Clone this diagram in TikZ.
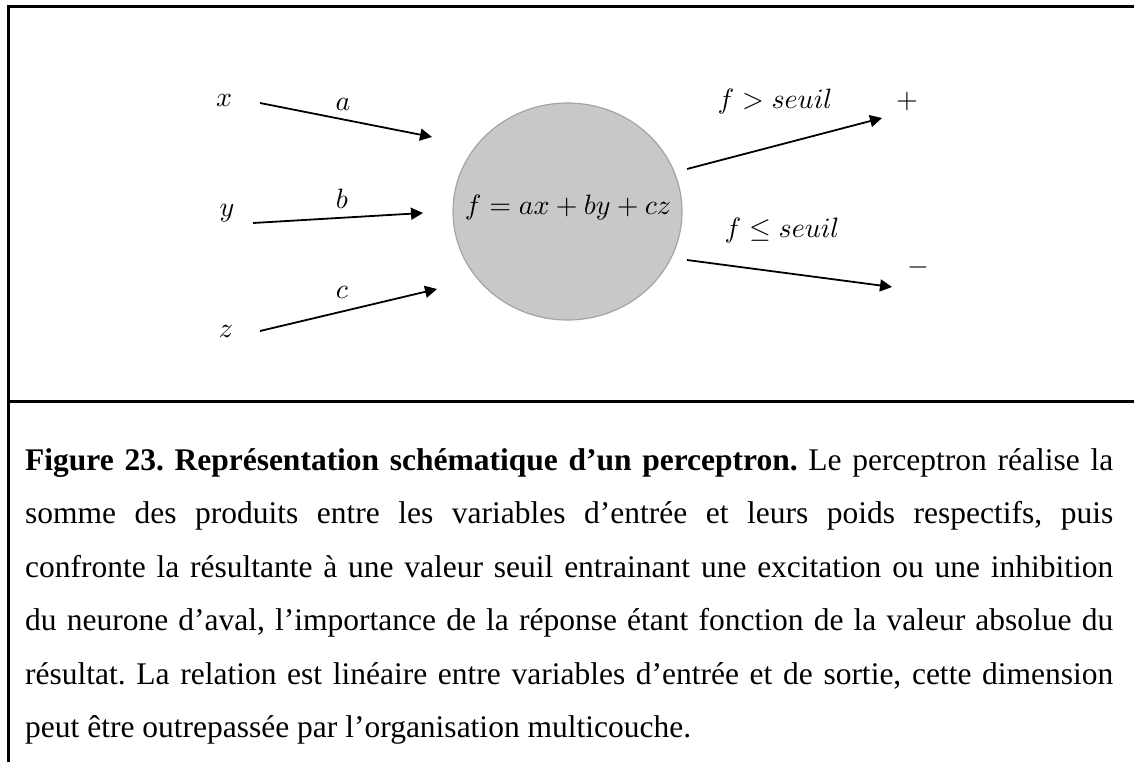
\documentclass[tikz,border=0pt]{standalone}
\usepackage{graphicx}
\usepackage{fontspec}
\setmainfont{Liberation Serif}
\usetikzlibrary{arrows.meta,shapes.geometric}
\definecolor{neuronfill}{HTML}{C8C8C8}
\definecolor{neurondraw}{HTML}{A4A4A4}
\newcommand{\mlbl}[1]{\scalebox{2.8}{$#1$}}
\begin{document}
\begin{tikzpicture}[x=1pt,y=-1pt,
  lbl/.style={inner sep=0pt, font=\fontsize{10}{12}\selectfont},
  conn/.style={line width=1.8pt, -{Triangle[length=12pt,width=12pt]}},
  framebar/.style={line width=3pt},
  neuron/.style={ellipse, draw=neurondraw, line width=1.2pt, fill=neuronfill,
     minimum width=229pt, minimum height=217pt, inner sep=0pt}]
\useasboundingbox (0,0) rectangle (1134,762);
% frame
\draw[framebar] (8,762) -- (8,7) -- (1134,7);
\draw[framebar] (8,401) -- (1134,401);
% neuron
\node[neuron] (f) at (567.5,211.5) {};
\node[lbl] (ftext) at (568,207) {\mlbl{f = ax + by + cz}};
% inputs
\node[lbl] (x) at (224,100) {\mlbl{x}};
\node[lbl] (y) at (227,213) {\mlbl{y}};
\node[lbl] (z) at (226,331) {\mlbl{z}};
\node[lbl] (wa) at (343,104) {\mlbl{a}};
\node[lbl] (wb) at (342,199) {\mlbl{b}};
\node[lbl] (wc) at (342,292) {\mlbl{c}};
\coordinate (xs) at (260,103);
\coordinate (xe) at (432,137);
\coordinate (ys) at (253,223);
\coordinate (ye) at (423,213);
\coordinate (zs) at (260,331);
\coordinate (ze) at (437,289);
\draw[conn] (xs) -- (xe);
\draw[conn] (ys) -- (ye);
\draw[conn] (zs) -- (ze);
% outputs
\coordinate (ps) at (687,169);
\coordinate (pe) at (882,118);
\coordinate (ms) at (687,260);
\coordinate (me) at (892,287);
\draw[conn] (ps) -- (pe);
\draw[conn] (ms) -- (me);
\node[lbl] (lp) at (775,102) {\mlbl{f > seuil}};
\node[lbl] (lm) at (782,230) {\mlbl{f \leq seuil}};
\node[lbl] (plus) at (907,102) {\mlbl{+}};
\node[lbl] (minus) at (918,267) {\mlbl{-}};
% caption
\node[anchor=base west, inner sep=0pt, font=\fontsize{31.5}{53.5}\selectfont] (cap) at (25,470)
{\frenchspacing\vtop{\hsize=1088pt
\hbox to\hsize{\textbf{Figure 23. Représentation schématique d’un perceptron.} Le perceptron réalise la}
\hbox to\hsize{somme des produits entre les variables d’entrée et leurs poids respectifs, puis}
\hbox to\hsize{confronte la résultante à une valeur seuil entrainant une excitation ou une inhibition}
\hbox to\hsize{du neurone d’aval, l’importance de la réponse étant fonction de la valeur absolue du}
\hbox to\hsize{résultat. La relation est linéaire entre variables d’entrée et de sortie, cette dimension}
\hbox{peut être outrepassée par l’organisation multicouche.}}};
\end{tikzpicture}
\end{document}
